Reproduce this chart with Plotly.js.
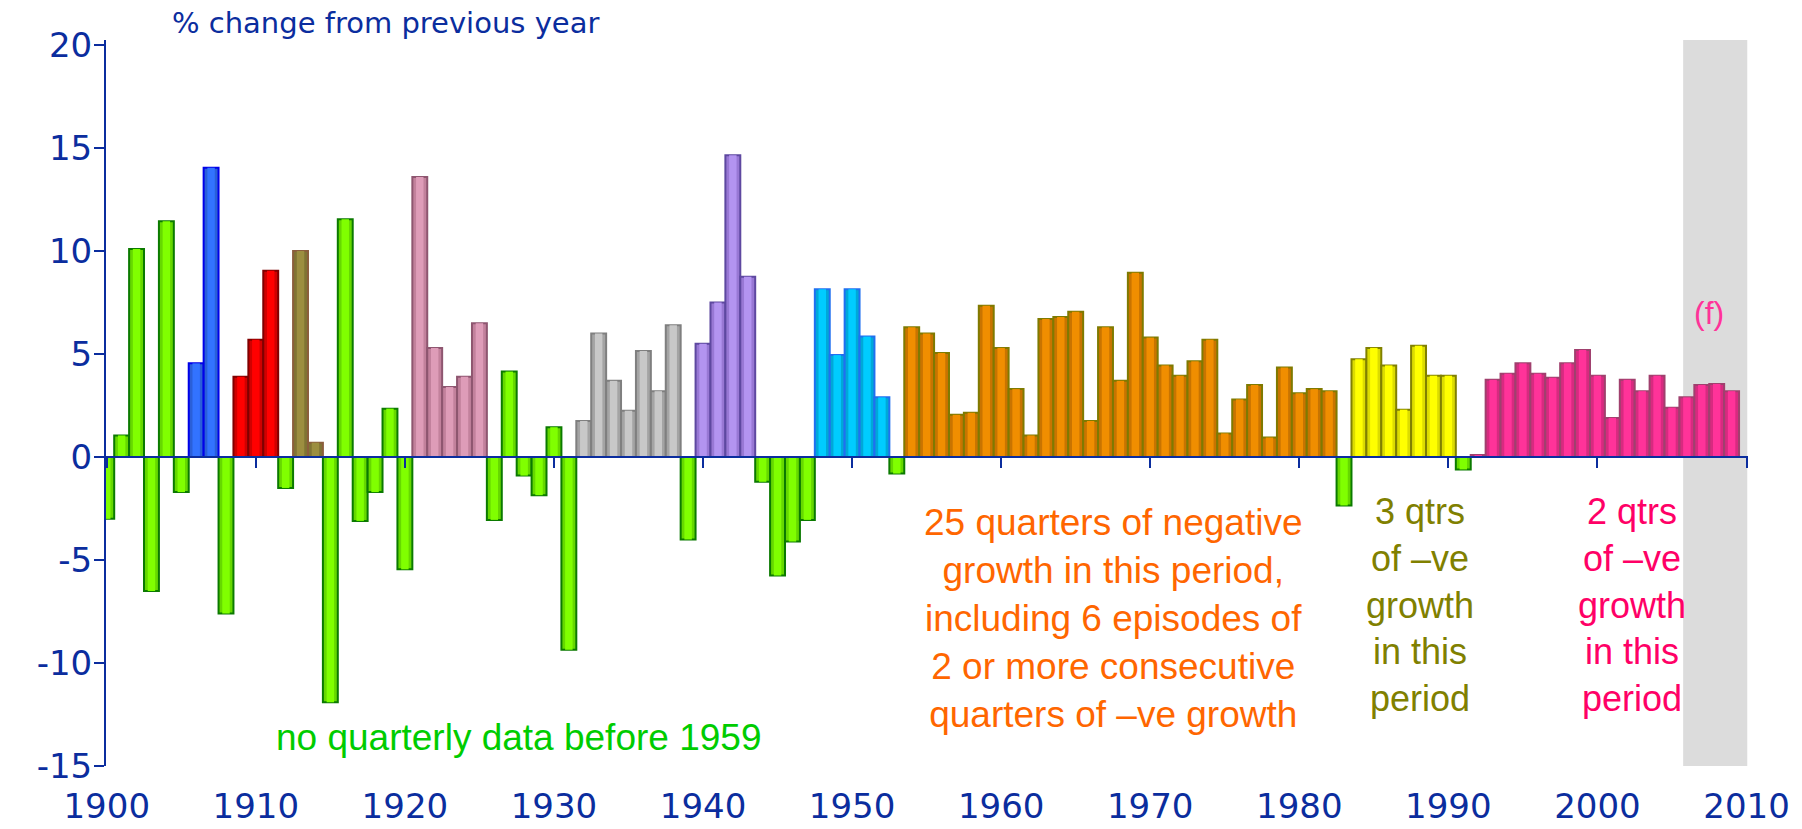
<!DOCTYPE html>
<html>
<head>
<meta charset="utf-8">
<script src="https://cdn.plot.ly/plotly-3.0.1.min.js"></script>
<style>
  body { margin: 0; background: #fff; }
  #chart { width: 1802px; height: 829px; }
</style>
</head>
<body>
<div id="chart"></div>
<script>
// years shown on the chart
let years = [
  1900, 1901, 1902, 1903, 1904, 1905, 1906, 1907, 1908, 1909,
  1910, 1911, 1912, 1913, 1914, 1915, 1916, 1917, 1918, 1919,
  1920, 1921, 1922, 1923, 1924, 1925, 1926, 1927, 1928, 1929,
  1930, 1931, 1932, 1933, 1934, 1935, 1936, 1937, 1938, 1939,
  1940, 1941, 1942, 1943, 1944, 1945, 1946, 1947, 1948, 1949,
  1950, 1951, 1952, 1953, 1954, 1955, 1956, 1957, 1958, 1959,
  1960, 1961, 1962, 1963, 1964, 1965, 1966, 1967, 1968, 1969,
  1970, 1971, 1972, 1973, 1974, 1975, 1976, 1977, 1978, 1979,
  1980, 1981, 1982, 1983, 1984, 1985, 1986, 1987, 1988, 1989,
  1990, 1991, 1992, 1993, 1994, 1995, 1996, 1997, 1998, 1999,
  2000, 2001, 2002, 2003, 2004, 2005, 2006, 2007, 2008, 2009
];

// % change from previous year, one value per year
let growth = [
  -3.0, 1.05, 10.1, -6.5, 11.45, -1.7, 4.55, 14.05, -7.6, 3.9,
  5.7, 9.05, -1.5, 10.0, 0.7, -11.9, 11.55, -3.1, -1.7, 2.35,
  -5.45, 13.6, 5.3, 3.4, 3.9, 6.5, -3.05, 4.15, -0.9, -1.85,
  1.45, -9.35, 1.75, 6.0, 3.7, 2.25, 5.15, 3.2, 6.4, -4.0,
  5.5, 7.5, 14.65, 8.75, -1.2, -5.75, -4.1, -3.05, 8.15, 4.95,
  8.15, 5.85, 2.9, -0.8, 6.3, 6.0, 5.05, 2.05, 2.15, 7.35,
  5.3, 3.3, 1.05, 6.7, 6.8, 7.05, 1.75, 6.3, 3.7, 8.95,
  5.8, 4.45, 3.95, 4.65, 5.7, 1.15, 2.8, 3.5, 0.95, 4.35,
  3.1, 3.3, 3.2, -2.35, 4.75, 5.3, 4.45, 2.3, 5.4, 3.95,
  3.95, -0.6, 0.1, 3.75, 4.05, 4.55, 4.05, 3.85, 4.55, 5.2,
  3.95, 1.9, 3.75, 3.2, 3.95, 2.4, 2.9, 3.5, 3.55, 3.2
];

// expansion periods, each drawn in its own colour (other years are green)
let periodNames = ["blue", "red", "olive", "pink", "grey", "purple", "cyan", "orange", "yellow", "magenta"];
let periodStart = [1906, 1909, 1913, 1921, 1932, 1940, 1948, 1954, 1984, 1992];
let periodEnd   = [1907, 1911, 1914, 1925, 1938, 1943, 1952, 1982, 1990, 2009];

// axis ticks
let yTicks = [-15, -10, -5, 0, 5, 10, 15, 20];
let yTickText = ["-15", "-10", "-5", "0", "5", "10", "15", "20"];
let xTicks = [1900, 1910, 1920, 1930, 1940, 1950, 1960, 1970, 1980, 1990, 2000, 2010];

// forecast years (shaded)
let forecastFrom = 2005.75;
let forecastTo = 2010.05;

// colours of each period: bright centre, darker sides, outline
let styles = {
  green:   { fill: "#80FF00", side: "#66D800", line: "#0B7A00" },
  blue:    { fill: "#3273FF", side: "#2A5FD8", line: "#0000E8" },
  red:     { fill: "#FF0000", side: "#D00000", line: "#800000" },
  olive:   { fill: "#9C8E40", side: "#807434", line: "#8B5E3C" },
  pink:    { fill: "#DE9CB8", side: "#C2819C", line: "#8E5670" },
  grey:    { fill: "#C8C8C8", side: "#A4A4A4", line: "#7F7F7F" },
  purple:  { fill: "#B394F0", side: "#9878D4", line: "#5E48A0" },
  cyan:    { fill: "#00CCFF", side: "#00A8D8", line: "#2070F0" },
  orange:  { fill: "#F08E00", side: "#C87400", line: "#7F7A00" },
  yellow:  { fill: "#FFFF00", side: "#DCDC00", line: "#808000" },
  magenta: { fill: "#FF3399", side: "#D82A80", line: "#A0406E" }
};

let blue = "#0B2D9E";

// work out which colour each bar gets
let fills = [];
let sides = [];
let lines = [];
years.forEach(function (yr) {
  let name = "green";
  for (let i = 0; i < periodNames.length; i++) {
    if (yr >= periodStart[i] && yr <= periodEnd[i]) name = periodNames[i];
  }
  fills.push(styles[name].fill);
  sides.push(styles[name].side);
  lines.push(styles[name].line);
});

// full bar with outline
let bars = {
  x: years,
  y: growth,
  type: "bar",
  width: 1,
  marker: { color: sides, line: { color: lines, width: 2 } },
  hoverinfo: "x+y"
};

// brighter stripe down the middle of each bar (the shaded look)
let stripes = {
  x: years,
  y: growth,
  type: "bar",
  width: 0.5,
  marker: { color: fills, line: { width: 0 } },
  hoverinfo: "skip"
};

// empty trace so the zero-line axis (ticks only) gets drawn
let zeroAxis = { x: [], y: [], type: "scatter", xaxis: "x2", yaxis: "y", hoverinfo: "skip" };

let yMin = -15, yMax = 20.25;
let xRange = [1899.95, 2010.1];

let layout = {
  width: 1802,
  height: 829,
  margin: { l: 106, r: 54, t: 40, b: 63 },
  paper_bgcolor: "#fff",
  plot_bgcolor: "#fff",
  showlegend: false,
  barmode: "overlay",
  xaxis: {
    range: xRange,
    tickvals: xTicks,
    ticks: "",
    showline: false,
    showgrid: false,
    zeroline: false,
    tickfont: { family: "DejaVu Sans", size: 34, color: blue },
    ticklabelstandoff: 17
  },
  xaxis2: {
    range: xRange,
    overlaying: "x",
    anchor: "free",
    position: (0 - yMin) / (yMax - yMin),
    tickvals: xTicks,
    ticks: "outside",
    ticklen: 10,
    tickwidth: 2,
    tickcolor: blue,
    showticklabels: false,
    showline: true,
    linecolor: blue,
    linewidth: 2,
    showgrid: false,
    zeroline: false
  },
  yaxis: {
    range: [yMin, yMax],
    tickvals: yTicks,
    ticktext: yTickText,
    ticks: "outside",
    ticklen: 10,
    tickwidth: 2,
    tickcolor: blue,
    showline: true,
    linecolor: blue,
    linewidth: 2,
    showgrid: false,
    zeroline: false,
    tickfont: { family: "DejaVu Sans", size: 34, color: blue },
    ticklabelstandoff: -5
  },
  shapes: [
    {
      type: "rect", xref: "x", yref: "y",
      x0: forecastFrom, x1: forecastTo, y0: yMin, y1: yMax,
      fillcolor: "#DCDCDC", line: { width: 0 }, layer: "below"
    }
  ],
  annotations: [
    {
      text: "% change from previous year", xref: "paper", yref: "paper",
      x: 0.0388, y: 1.0234, xanchor: "left", yanchor: "middle", showarrow: false,
      font: { family: "DejaVu Sans", size: 29, color: blue }
    },
    {
      text: "no quarterly data before 1959", xref: "x", yref: "y",
      x: 1927.6, y: -13.6, showarrow: false,
      font: { family: "Liberation Sans", size: 37, color: "#00CC00" }
    },
    {
      text: "25 quarters of negative<br>growth in this period,<br>including 6 episodes of<br>2 or more consecutive<br>quarters of \u2013ve growth",
      xref: "x", yref: "y", x: 1967.5, y: -7.85, showarrow: false, align: "center",
      font: { family: "Liberation Sans", size: 37, color: "#FF6600" }
    },
    {
      text: "3 qtrs<br>of \u2013ve<br>growth<br>in this<br>period",
      xref: "x", yref: "y", x: 1988.1, y: -7.2, showarrow: false, align: "center",
      font: { family: "Liberation Sans", size: 36, color: "#808000" }
    },
    {
      text: "2 qtrs<br>of \u2013ve<br>growth<br>in this<br>period",
      xref: "x", yref: "y", x: 2002.35, y: -7.2, showarrow: false, align: "center",
      font: { family: "Liberation Sans", size: 36, color: "#FF0066" }
    },
    {
      text: "(f)", xref: "x", yref: "y", x: 2007.5, y: 7.0, showarrow: false,
      font: { family: "Liberation Sans", size: 32, color: "#FF3399" }
    }
  ]
};

Plotly.newPlot("chart", [bars, stripes, zeroAxis], layout, { staticPlot: true });
</script>
</body>
</html>
